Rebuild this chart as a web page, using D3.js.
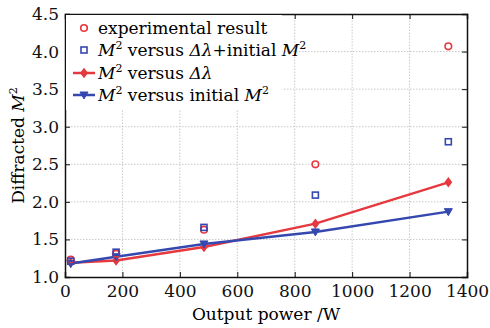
<!DOCTYPE html>
<html>
<head>
<meta charset="utf-8">
<script src="https://cdn.jsdelivr.net/npm/d3@7"></script>
<style>
  body { margin: 0; background: #fff; }
  text { font-family: "DejaVu Serif", "Liberation Serif", serif; }
</style>
</head>
<body>
<div id="chart"></div>
<script>
// data
const power = [20, 178, 484, 872, 1335];
const experimental = [1.23, 1.31, 1.63, 2.50, 4.07];
const combined = [1.21, 1.33, 1.66, 2.09, 2.80];
const vsLambda = [1.19, 1.22, 1.40, 1.71, 2.26];
const vsInitial = [1.18, 1.27, 1.44, 1.60, 1.87];
const xTicks = [0, 200, 400, 600, 800, 1000, 1200, 1400];
const yTicks = [1.0, 1.5, 2.0, 2.5, 3.0, 3.5, 4.0, 4.5];

const red = '#e5393f';
const blue = '#3448b0';

const width = 490, height = 328;
const margin = {top: 14, right: 23, bottom: 51, left: 65};

const svg = d3.select('#chart').append('svg')
  .attr('width', width)
  .attr('height', height);

const x = d3.scaleLinear().domain([0, 1400]).range([margin.left, width - margin.right]);
const y = d3.scaleLinear().domain([1.0, 4.5]).range([height - margin.bottom, margin.top]);

// grid
const grid = svg.append('g').attr('stroke', '#bbb').attr('stroke-width', 0.8).attr('stroke-dasharray', '1.5,1.5');
grid.selectAll('.vx').data(xTicks.slice(1, -1)).enter().append('line')
  .attr('x1', d => x(d)).attr('x2', d => x(d))
  .attr('y1', y(1.0)).attr('y2', y(4.5));
grid.selectAll('.hy').data(yTicks.slice(1, -1)).enter().append('line')
  .attr('x1', x(0)).attr('x2', x(1400))
  .attr('y1', d => y(d)).attr('y2', d => y(d));

// axes with inward ticks
const fmtY = d3.format('.1f');
svg.append('g')
  .attr('transform', `translate(0,${y(1.0)})`)
  .call(d3.axisBottom(x).tickValues(xTicks).tickFormat(d3.format('d')).tickSize(-5).tickPadding(8))
  .call(g => g.selectAll('text').attr('font-size', 17).attr('fill', '#111'));
svg.append('g')
  .attr('transform', `translate(${x(0)},0)`)
  .call(d3.axisLeft(y).tickValues(yTicks).tickFormat(fmtY).tickSize(-5).tickPadding(6))
  .call(g => g.selectAll('text').attr('font-size', 17).attr('fill', '#111'));
svg.append('g')
  .attr('transform', `translate(0,${y(4.5)})`)
  .call(d3.axisTop(x).tickValues(xTicks).tickSize(-5).tickFormat(''));
svg.append('g')
  .attr('transform', `translate(${x(1400)},0)`)
  .call(d3.axisRight(y).tickValues(yTicks).tickSize(-5).tickFormat(''));
svg.selectAll('g').attr('font-family', null);
svg.selectAll('.domain').attr('stroke', '#111').attr('stroke-width', 1.5);
svg.selectAll('.tick line').attr('stroke', '#111');

// axis titles
svg.append('text')
  .attr('x', (x(0) + x(1400)) / 2).attr('y', height - 8)
  .attr('text-anchor', 'middle').attr('font-size', 17)
  .text('Output power /W');

const yl = svg.append('text')
  .attr('transform', `translate(24,${(y(1.0) + y(4.5)) / 2}) rotate(-90)`)
  .attr('text-anchor', 'middle').attr('font-size', 17);
yl.append('tspan').text('Diffracted ');
yl.append('tspan').attr('font-style', 'italic').text('M');
yl.append('tspan').attr('font-size', 11).attr('dy', -7).text('2');

// legend box (covers grid)
svg.append('rect')
  .attr('x', x(0) + 1).attr('y', y(4.5) + 1)
  .attr('width', 216).attr('height', 95)
  .attr('fill', '#fff');

// lines
const line = d3.line().x((d, i) => x(power[i])).y(d => y(d));
svg.append('path').datum(vsLambda).attr('d', line)
  .attr('fill', 'none').attr('stroke', red).attr('stroke-width', 2.5);
svg.append('path').datum(vsInitial).attr('d', line)
  .attr('fill', 'none').attr('stroke', blue).attr('stroke-width', 2.5);

const diamond = 'M0,-4L3,0L0,4L-3,0Z';
const triDown = 'M-4,-3L4,-3L0,4Z';

svg.selectAll('.dia').data(vsLambda).enter().append('path')
  .attr('transform', (d, i) => `translate(${x(power[i])},${y(d)})`)
  .attr('d', diamond).attr('fill', red).attr('stroke', red).attr('stroke-width', 1.5);
svg.selectAll('.tri').data(vsInitial).enter().append('path')
  .attr('transform', (d, i) => `translate(${x(power[i])},${y(d)})`)
  .attr('d', triDown).attr('fill', blue).attr('stroke', blue).attr('stroke-width', 1);

svg.selectAll('.exp').data(experimental).enter().append('circle')
  .attr('cx', (d, i) => x(power[i])).attr('cy', d => y(d)).attr('r', 3.3)
  .attr('fill', 'none').attr('stroke', red).attr('stroke-width', 1.6);
svg.selectAll('.sq').data(combined).enter().append('rect')
  .attr('x', (d, i) => x(power[i]) - 3).attr('y', d => y(d) - 3)
  .attr('width', 6).attr('height', 6)
  .attr('fill', 'none').attr('stroke', blue).attr('stroke-width', 1.6);

// legend
const lx = 84, rows = [28, 50, 73, 95], tx = 98;
const leg = svg.append('g');
leg.append('circle').attr('cx', lx).attr('cy', rows[0]).attr('r', 3.3)
  .attr('fill', 'none').attr('stroke', red).attr('stroke-width', 1.6);
leg.append('rect').attr('x', lx - 3).attr('y', rows[1] - 3).attr('width', 6).attr('height', 6)
  .attr('fill', 'none').attr('stroke', blue).attr('stroke-width', 1.6);
leg.append('line').attr('x1', 73).attr('x2', 95).attr('y1', rows[2]).attr('y2', rows[2])
  .attr('stroke', red).attr('stroke-width', 2.5);
leg.append('path').attr('transform', `translate(${lx},${rows[2]})`).attr('d', diamond)
  .attr('fill', red).attr('stroke', red).attr('stroke-width', 1.5);
leg.append('line').attr('x1', 73).attr('x2', 95).attr('y1', rows[3]).attr('y2', rows[3])
  .attr('stroke', blue).attr('stroke-width', 2.5);
leg.append('path').attr('transform', `translate(${lx},${rows[3]})`).attr('d', triDown)
  .attr('fill', blue).attr('stroke', blue);

function legText(yy, parts) {
  const t = leg.append('text').attr('x', tx).attr('y', yy + 6).attr('font-size', 17);
  parts.forEach(p => {
    const s = t.append('tspan').text(p[0]);
    if (p[1] === 'i') s.attr('font-style', 'italic');
    if (p[1] === 'sup') s.attr('font-size', 11).attr('dy', -7);
    if (p[1] === 'down') s.attr('dy', 7);
  });
}
legText(rows[0], [['experimental result']]);
legText(rows[1], [['M', 'i'], ['2', 'sup'], [' versus ', 'down'], ['Δλ', 'i'], ['+initial '], ['M', 'i'], ['2', 'sup']]);
legText(rows[2], [['M', 'i'], ['2', 'sup'], [' versus ', 'down'], ['Δλ', 'i']]);
legText(rows[3], [['M', 'i'], ['2', 'sup'], [' versus initial ', 'down'], ['M', 'i'], ['2', 'sup']]);
</script>
</body>
</html>
